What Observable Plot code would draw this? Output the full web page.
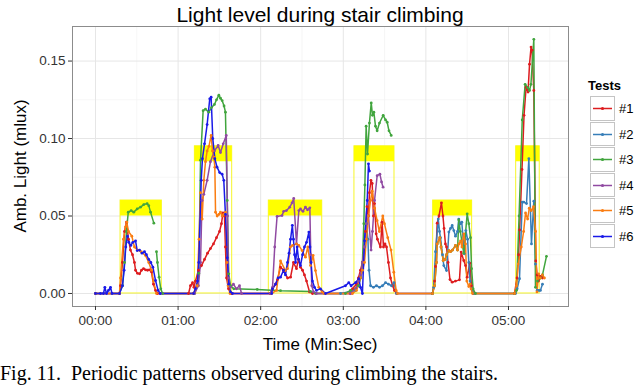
<!DOCTYPE html>
<html><head><meta charset="utf-8">
<script src="https://cdn.jsdelivr.net/npm/d3@7"></script>
<script src="https://cdn.jsdelivr.net/npm/@observablehq/plot@0.6"></script>
<style>
body{margin:0;background:#fff;}
#wrap{position:relative;width:640px;height:385px;overflow:hidden;font-family:"Liberation Sans",Arial,sans-serif;background:#fff;}
#chart{position:absolute;left:0;top:0;}
#title{position:absolute;left:72px;width:496px;top:3px;text-align:center;font-size:21px;line-height:24px;color:#000;}
#xtitle{position:absolute;left:72px;width:496px;top:335px;text-align:center;font-size:17px;line-height:20px;color:#000;}
#ytitle{position:absolute;left:21px;top:166px;transform:translate(-50%,-50%) rotate(-90deg);font-size:17px;line-height:20px;white-space:nowrap;color:#000;}
#legend{position:absolute;left:588px;top:78px;}
#legend .lt{font-size:13px;font-weight:bold;line-height:16px;margin-bottom:2px;}
#legend .item{position:relative;height:25.5px;}
#legend .key{position:absolute;left:2px;top:0;width:25px;height:24.5px;border:1px solid #c4c4c4;box-sizing:border-box;background:#fff;}
#legend .lab{position:absolute;left:31px;top:5px;font-size:13px;line-height:15px;}
#caption{position:absolute;left:0;top:363px;font-family:"Liberation Serif","Times New Roman",serif;font-size:20px;line-height:20px;white-space:nowrap;color:#000;}
</style></head>
<body><div id="wrap">
<div id="chart"></div>
<div id="title">Light level during stair climbing</div>
<div id="xtitle">Time (Min:Sec)</div>
<div id="ytitle">Amb. Light (mlux)</div>
<div id="legend"></div>
<div id="caption">Fig. 11.&nbsp;&nbsp;Periodic patterns observed during climbing the stairs.</div>
</div>
<script>
const testNames = ["#1","#2","#3","#4","#5","#6"];
const testColors = ["#dd1c1f","#377eb8","#41a53e","#904aa2","#fa7d12","#1a1ae8"];

const xTicks = [0,60,120,180,240,300];
const xTickLabels = ["00:00","01:00","02:00","03:00","04:00","05:00"];
const xMinor = [30,90,150,210,270,330];
const yTicks = [0,0.05,0.10,0.15];
const yTickLabels = ["0.00","0.05","0.10","0.15"];
const yMinor = [0.025,0.075,0.125];

// highlighted zones (seconds / mlux)
const zoneStart = [18.2,72.2,125.9,188.1,245.3,305.6];
const zoneEnd   = [48.2,99.3,164.7,217.2,273.6,322.7];
const bandLow   = [0.05,0.085,0.05,0.085,0.05,0.085];
const bandHigh  = [0.06,0.095,0.06,0.095,0.06,0.095];

// Test #1
const t1 = [0,17.4,18.2,19.6,21.1,22.5,24.0,25.4,26.9,28.3,29.1,30.5,32.0,33.4,34.9,36.3,37.8,39.2,40.7,42.1,43.6,45.0,
 67.6,69.0,70.5,71.5,72.6,74.8,77.0,79.2,81.4,83.5,85.7,87.9,90.1,91.5,92.6,93.7,94.4,95.2,96.6,98.8,
 127.0,128.6,130.8,132.2,134.4,136.6,139.5,141.7,143.8,146.0,147.5,148.9,150.4,151.8,153.3,155.5,157.6,
 185.2,186.7,189.6,191.0,192.5,193.9,195.4,196.1,197.2,198.3,199.0,200.1,201.0,201.9,202.7,203.9,204.8,207.0,208.2,209.2,210.3,211.4,212.8,214.3,215.8,217.2,218.7,
 244.8,246.3,247.0,248.2,249.5,251.3,252.4,253.2,254.2,255.0,256.1,257.5,259.1,261.5,264.4,265.6,267.5,268.8,270.0,271.9,273.1,274.6,
 304.4,306.2,307.3,308.1,309.8,311.3,312.8,314.2,315.3,316.4,317.1,318.4,319.8,320.8,321.8,323.2,324.7];
const v1 = [0,0,0.005,0.02,0.04,0.046,0.035,0.028,0.025,0.02,0.015,0.013,0.0127,0.015,0.016,0.0153,0.015,0.0153,0.0138,0.006,0.002,0,
 0,0.005,0.007,0.004,0.008,0.015,0.018,0.022,0.026,0.029,0.032,0.036,0.04,0.045,0.052,0.05,0.03,0.01,0.003,0,
 0,0.003,0.006,0.009,0.017,0.015,0.01,0.0105,0.02,0.016,0.022,0.017,0.015,0.012,0.008,0.001,0,
 0,0.003,0.006,0.01,0.015,0.02,0.03,0.04,0.056,0.05,0.065,0.073,0.071,0.05,0.058,0.0385,0.035,0.03,0.046,0.03,0.032,0.03,0.02,0.01,0.005,0.002,0,
 0,0.008,0.0174,0.0454,0.05,0.0585,0.05,0.042,0.032,0.03,0.02,0.009,0.0073,0.008,0.0088,0.0267,0.0213,0.018,0.0105,0.0196,0.005,0,
 0,0.01,0.025,0.041,0.08,0.115,0.133,0.13,0.148,0.159,0.157,0.131,0.021,0.012,0.008,0.011,0.01];

// Test #2
const t2 = [178.0,188.9,191.0,192.5,193.9,195.4,196.8,197.9,198.7,199.8,201.9,204.1,206.3,208.5,210.7,212.8,215.0,216.8,218.7,
 244.8,245.7,247.0,249.0,249.9,250.6,252.1,253.0,255.0,256.7,257.9,259.1,260.3,261.5,263.0,263.9,265.2,266.1,267.9,269.0,270.3,271.2,272.1,273.1,274.6,
 305.1,306.3,308.0,310.0,311.1,313.1,314.8,316.7,318.4,319.6,320.8,322.1,323.2,324.7];
const v2 = [0,0.002,0.005,0.01,0.015,0.03,0.045,0.035,0.015,0.005,0.004,0.005,0.004,0.005,0.007,0.006,0.005,0.007,0,
 0,0.004,0.027,0.048,0.04,0.036,0.025,0.018,0.0148,0.0396,0.042,0.0439,0.0406,0.037,0.04,0.048,0.045,0.046,0.0256,0.0406,0.035,0.02,0.008,0.003,0,
 0,0.003,0.0095,0.059,0.059,0.058,0.087,0.032,0.0596,0.019,0.002,0.002,0.002,0.006];

// Test #3
const t3 = [0,17.4,19.6,21.1,22.5,23.8,25.9,27.8,30.3,32.7,35.1,37.5,38.7,40.0,42.4,43.3,44.3,45.0,46.2,47.4,48.7,
 72.0,74.1,75.0,76.3,78.2,79.9,82.3,84.3,86.4,87.9,89.6,90.8,92.0,93.4,94.4,95.7,96.8,98.1,100.5,117.5,134.4,156.2,159.8,
 181.6,185.2,188.9,191.0,192.5,193.9,194.9,195.7,196.6,197.6,199.0,200.3,201.2,202.2,203.4,204.6,206.3,209.0,210.7,211.9,213.2,214.8,216.0,
 244.8,246.3,247.7,248.2,250.1,251.0,252.6,253.9,255.0,256.7,257.9,259.3,261.5,263.0,263.9,265.0,267.5,270.0,271.2,272.4,273.2,274.3,276.0,
 304.4,305.8,307.7,310.0,312.1,313.8,315.3,316.3,318.4,319.6,321.1,323.2,324.7,327.6];
const v3 = [0,0,0.005,0.02,0.04,0.0525,0.0535,0.0525,0.0546,0.0557,0.0574,0.058,0.0567,0.0525,0.0454,null,0.027,0.02,0.0105,0.003,0,
 0,0.005,0.013,0.086,0.118,0.119,0.117,0.12,0.122,0.125,0.128,0.126,0.1245,0.121,0.117,0.06,0.0127,0.005,0.003,0.0026,0.0018,0.0013,0,
 0,0.002,0.003,0.005,0.01,0.02,0.045,0.07,0.108,0.09,0.11,0.123,0.115,0.117,0.108,0.105,0.11,0.115,0.112,0.1105,0.105,0.102,null,
 0,0.005,0.02,0.032,0.036,0.03,0.0213,0.022,0.025,0.0277,0.027,0.028,0.031,0.028,0.0475,0.04,0.026,0.0514,0.045,0.036,0.016,0.003,0,
 0,0.002,0.05,0.112,0.135,0.133,0.131,0.135,0.164,0.004,0.008,0.01,0.012,0.024];

// Test #4
const t4 = [0,17.4,30.0,47.0,72.0,74.8,76.3,77.4,78.7,81.1,83.5,86.4,89.1,90.8,92.8,95.0,95.9,96.6,98.1,100.2,102.4,104.6,106.1,
 127.0,128.6,130.2,131.9,135.5,136.7,138.7,141.1,142.8,144.0,146.0,147.7,148.9,150.7,152.5,154.0,155.7,156.4,157.1,158.4,160.5,
 185.2,188.9,191.0,192.5,193.9,195.4,196.8,198.3,200.2,201.2,202.7,204.6,206.6,207.8,208.9];
const v4 = [0,0,null,0,0,0.005,0.02,0.06,0.064,0.073,0.085,0.092,0.0955,0.091,0.0966,0.102,0.05,0.01,0.004,0.006,0.003,0.005,0,
 0,0.004,0.03,0.0497,0.0503,0.053,0.0535,0.0557,0.0585,0.0613,0.032,0.0535,0.0546,0.053,0.0557,0.054,0.0553,0.025,0.005,0.001,0,
 0,0.003,0.008,0.012,0.02,0.03,0.045,0.05,0.028,0.04,0.06,0.076,0.077,0.072,0.0686];

// Test #5
const t5 = [0,17.4,18.2,20.3,21.8,22.7,24.0,26.4,28.3,30.5,33.2,36.3,38.7,40.7,42.1,44.3,
 71.0,73.9,75.2,76.3,77.5,78.7,79.9,81.1,82.4,84.0,85.0,86.0,86.7,87.2,88.4,89.6,90.8,92.0,93.2,94.4,95.5,96.3,97.7,
 128.0,131.5,134.4,138.0,139.5,141.6,143.1,146.0,147.7,150.1,152.5,154.2,156.2,158.1,159.8,162.2,164.6,166.0,
 186.7,189.6,192.5,193.9,195.4,196.8,198.3,199.8,201.0,202.7,204.6,206.2,208.7,209.9,212.3,214.7,216.7,218.4,219.4,
 244.8,246.3,247.7,248.2,250.1,251.0,252.6,253.9,255.0,256.7,257.9,259.3,261.5,263.0,264.0,265.2,266.2,267.5,268.8,269.7,271.2,272.1,272.8,273.9,
 304.4,305.8,307.1,309.3,311.0,312.4,313.9,315.1,316.5,318.2,319.7,320.7,321.9,323.1,324.6,326.1];
const v5 = [0,0,0.01,0.035,0.043,0.046,0.04,0.037,0.03,0.028,0.027,0.0245,0.02,0.015,0.008,0,
 0,0.005,0.035,0.065,0.048,0.073,0.085,0.092,0.095,0.102,0.092,0.088,0.0815,0.0525,0.05,0.051,0.0525,0.05,0.051,0.0525,0.02,0.005,0,
 0,0.002,0.021,0.0148,0.016,0.03,0.031,0.032,0.031,0.0277,0.0234,0.03,0.018,0.0245,0.0148,0.004,0.001,0,
 0,0.002,0.01,0.015,0.02,0.035,0.05,0.06,0.066,0.055,0.047,0.04,0.05,0.045,0.036,0.028,0.0137,0.002,0,
 0,0.005,0.02,0.032,0.036,0.03,0.0213,0.022,0.025,0.0277,0.027,0.028,0.031,0.028,0.032,0.034,0.03,0.0385,0.032,0.008,0.0045,0.006,0.003,0,
 0,0.005,0.019,0.03,0.04,0.052,0.048,0.055,0.0535,0.056,0.04,0.001,0.0127,0.01,0.012,0.01];

// Test #6
const t6 = [0,3.6,5.8,6.8,8.0,9.4,10.9,12.0,17.4,19.6,20.8,22.0,23.2,24.2,25.7,27.1,29.1,30.3,32.0,33.8,35.6,37.0,38.7,40.2,41.7,43.6,45.5,47.0,
 71.2,72.6,74.1,75.0,76.8,77.7,79.2,81.1,83.0,84.0,85.2,86.7,88.3,90.2,92.0,93.2,94.4,95.7,96.8,98.1,99.5,
 128.0,128.6,130.8,132.6,134.4,136.6,138.0,139.5,140.6,141.7,143.0,143.8,144.6,145.3,146.5,147.5,148.9,150.4,151.8,153.3,155.0,155.8,156.6,157.6,159.1,160.5,163.4,167.1,
 181.6,184.0,185.7,188.9,191.3,192.5,193.9,195.4,197.4,198.3,199.0];
const v6 = [0,0,0,0.004,0,0.002,0.004,0,0,0.005,0.015,0.03,0.037,0.033,0.031,0.033,0.034,0.0277,0.028,0.026,0.027,0.025,0.022,0.02,0.017,0.0084,0.002,0,
 0,0.003,0.008,0.02,0.073,0.087,0.0966,0.109,0.1256,0.1267,0.1,0.087,0.0815,0.078,0.077,0.073,0.051,0.023,0.006,0.001,0,
 0,0.003,0.006,0.01,0.0105,0.015,0.012,0.02,0.026,0.035,0.044,0.035,0.025,0.02,0.03,0.022,0.018,0.025,0.03,0.033,0.0396,0.03,0.02,0.008,0.004,0.002,0.003,0,
 0.005,0.007,0.005,0.007,0.0095,0.004,0,0.034,0.06,0.0837,0.079];

const T = [t1,t2,t3,t4,t5,t6];
const V = [v1,v2,v3,v4,v5,v6];

const rows = [];
T.forEach((ts, i) => ts.forEach((t, j) => rows.push({test: testNames[i], t, v: V[i][j]})));
const pts = rows.filter(d => d.v != null);
const zones = zoneStart.map((s, i) => ({s, e: zoneEnd[i], lo: bandLow[i], hi: bandHigh[i]}));

const chart = Plot.plot({
  width: 640, height: 352,
  marginLeft: 72, marginRight: 72, marginTop: 26, marginBottom: 46,
  style: {fontFamily: "'Liberation Sans', Arial, sans-serif", fontSize: "13.5px", background: "transparent", color: "#333"},
  x: {domain: [-16.7, 343.6], label: null},
  y: {domain: [-0.0084, 0.1723], label: null},
  color: {domain: testNames, range: testColors},
  marks: [
    Plot.gridX(xMinor, {stroke: "#f2f2f2", strokeOpacity: 1, strokeWidth: 0.7}),
    Plot.gridY(yMinor, {stroke: "#f2f2f2", strokeOpacity: 1, strokeWidth: 0.7}),
    Plot.gridX(xTicks, {stroke: "#e6e6e6", strokeOpacity: 1, strokeWidth: 1}),
    Plot.gridY(yTicks, {stroke: "#e6e6e6", strokeOpacity: 1, strokeWidth: 1}),
    Plot.rect(zones, {x1: "s", x2: "e", y1: 0, y2: "hi", fill: "none", stroke: "#f6f62a", strokeWidth: 1}),
    Plot.rect(zones, {x1: "s", x2: "e", y1: "lo", y2: "hi", fill: "#ffff00"}),
    Plot.line(rows, {x: "t", y: "v", z: "test", stroke: "test", strokeWidth: 1.5}),
    Plot.dot(pts, {x: "t", y: "v", fill: "test", r: 1.4}),
    Plot.frame({stroke: "#8c8c8c", strokeWidth: 1}),
    Plot.axisX({ticks: xTicks, tickFormat: d => xTickLabels[xTicks.indexOf(d)], tickSize: 4, tickPadding: 5, fontSize: 13.5, stroke: "#333", fill: "#333", label: null}),
    Plot.axisY({ticks: yTicks, tickFormat: d => yTickLabels[yTicks.indexOf(d)], tickSize: 4, tickPadding: 3, fontSize: 13.5, stroke: "#333", fill: "#333", label: null})
  ]
});
document.getElementById("chart").appendChild(chart);

// legend
const lg = document.getElementById("legend");
const lt = document.createElement("div"); lt.className = "lt"; lt.textContent = "Tests"; lg.appendChild(lt);
testNames.forEach((n, i) => {
  const it = document.createElement("div"); it.className = "item";
  it.innerHTML = `<div class="key"><svg width="23" height="23" style="position:absolute;left:0;top:0"><line x1="2" x2="21" y1="11.5" y2="11.5" stroke="${testColors[i]}" stroke-width="1.5"/><circle cx="11.5" cy="11.5" r="1.6" fill="${testColors[i]}"/></svg></div><div class="lab">${n}</div>`;
  lg.appendChild(it);
});
</script>
</body></html>
